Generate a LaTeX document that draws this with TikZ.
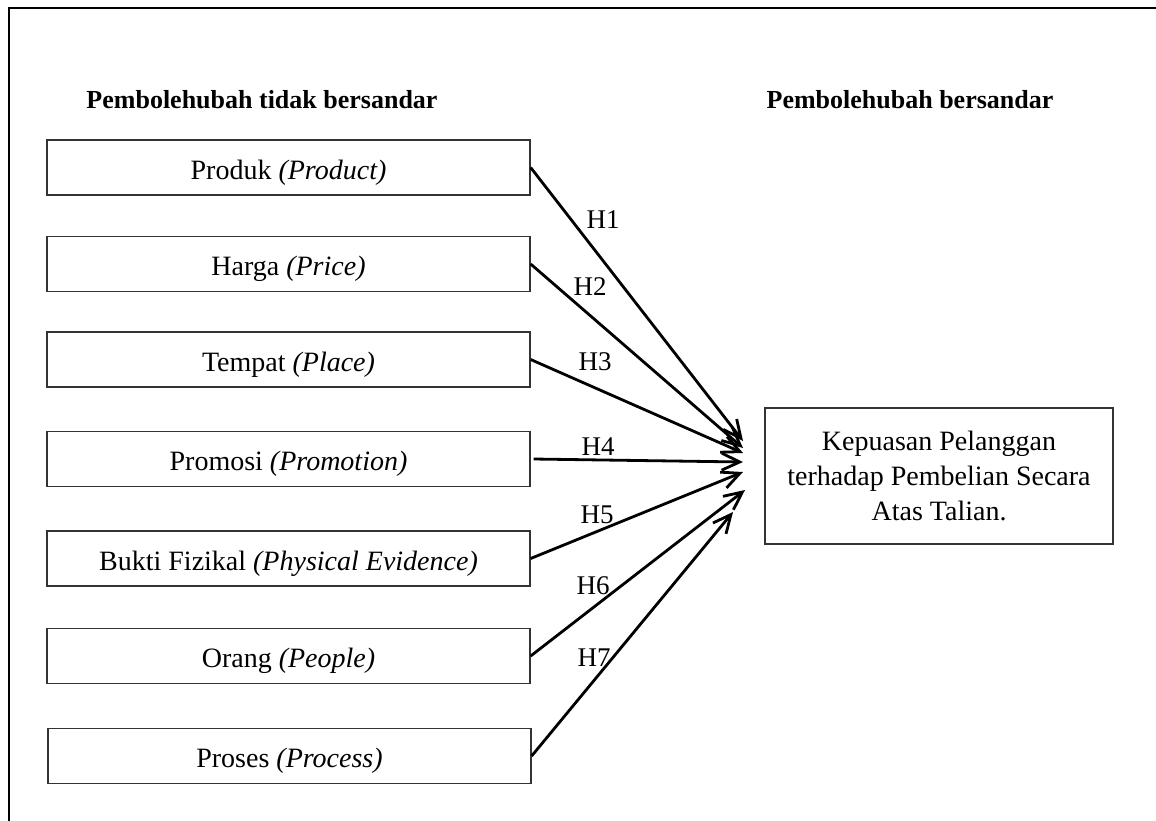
\documentclass[tikz,border=0pt]{standalone}
\usepackage{fontspec}
\setmainfont{Liberation Serif}
\usetikzlibrary{arrows.meta}

\begin{document}
\begin{tikzpicture}[x=1pt, y=-1pt,
    every node/.style={font=\fontsize{28}{32}\selectfont},
    kotak/.style={draw=black!80, line width=1.3pt, minimum width=483pt, minimum height=55pt,
        inner sep=0pt, text height=29pt, text depth=6pt},
    judul/.style={font=\bfseries\fontsize{26}{30}\selectfont},
    hipo/.style={font=\fontsize{27}{30}\selectfont, inner sep=0pt},
    panah/.style={line width=2.8pt, -{Straight Barb[length=18pt, width=17pt, line width=2.8pt]}}]
    \useasboundingbox (0,0) rectangle (1156,820);

    % bingkai
    \draw[line width=2pt] (9,840) -- (9,8) -- (1180,8);

    % tajuk
    \node[judul] (tajukkiri) at (262,100) {Pembolehubah tidak bersandar};
    \node[judul] (tajukkanan) at (910,100) {Pembolehubah bersandar};

    % pembolehubah tidak bersandar
    \node[kotak] (produk) at (288.5,167.5) {Produk \textit{(Product)}};
    \node[kotak] (harga) at (288.5,264) {Harga \textit{(Price)}};
    \node[kotak] (tempat) at (288.5,359.5) {Tempat \textit{(Place)}};
    \node[kotak] (promosi) at (288.5,459) {Promosi \textit{(Promotion)}};
    \node[kotak] (bukti) at (288.5,558.5) {Bukti Fizikal \textit{(Physical Evidence)}};
    \node[kotak] (orang) at (288.5,656) {Orang \textit{(People)}};
    \node[kotak] (proses) at (289.5,756) {Proses \textit{(Process)}};

    % pembolehubah bersandar
    \node[draw=black!80, line width=1.3pt, minimum width=348pt, minimum height=136pt,
        align=center, font=\fontsize{28}{35}\selectfont] (puas) at (939,476)
        {Kepuasan Pelanggan\\terhadap Pembelian Secara\\Atas Talian.};

    % hujung anak panah
    \coordinate (t1) at (743,441);
    \coordinate (t2) at (743,448);
    \coordinate (t3) at (743,453);
    \coordinate (t4) at (743,462);
    \coordinate (t5) at (743,472);
    \coordinate (t6) at (745,490);
    \coordinate (t7) at (733,512);

    \draw[panah] (produk.east) -- (t1);
    \draw[panah] (harga.east) -- (t2);
    \draw[panah] (tempat.east) -- (t3);
    \draw[panah] ([xshift=3pt]promosi.east) -- (t4);
    \draw[panah] (bukti.east) -- (t5);
    \draw[panah] (orang.east) -- (t6);
    \draw[panah] (proses.east) -- (t7);

    % hipotesis
    \node[hipo] (h1) at (603,220) {H1};
    \node[hipo] (h2) at (590,287) {H2};
    \node[hipo] (h3) at (595,362) {H3};
    \node[hipo] (h4) at (598,447) {H4};
    \node[hipo] (h5) at (597,515) {H5};
    \node[hipo] (h6) at (593,586) {H6};
    \node[hipo] (h7) at (594,658) {H7};
\end{tikzpicture}
\end{document}
